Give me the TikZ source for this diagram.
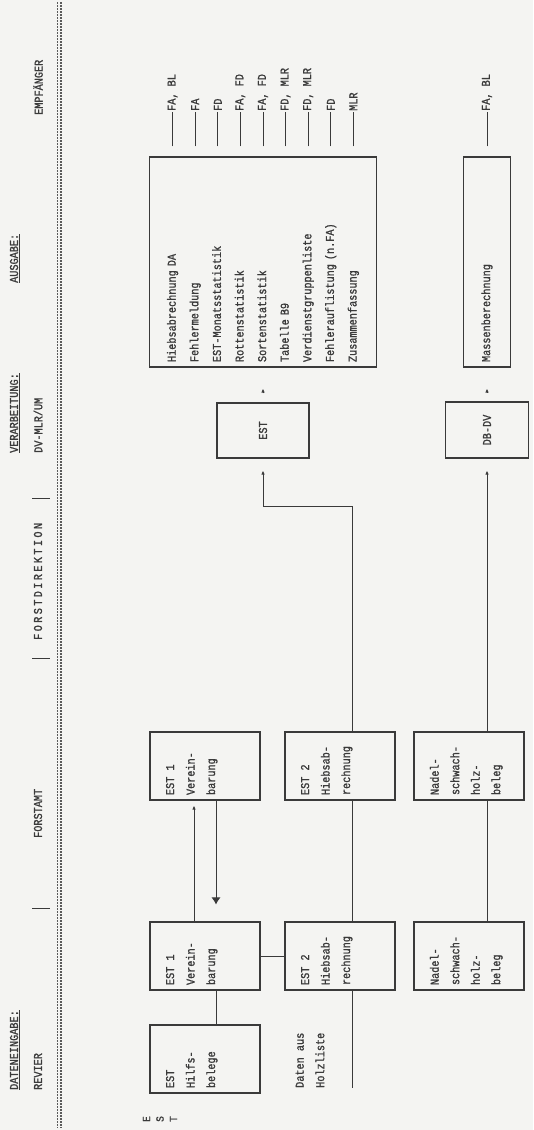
\documentclass[tikz,border=0pt]{standalone}
\usepackage{fontspec}
\setmainfont{Liberation Mono}[FakeStretch=0.85, FakeBold=1.2]
\usetikzlibrary{arrows.meta}
\definecolor{ink}{HTML}{3A3A3A}
\definecolor{paper}{HTML}{F4F4F2}
\definecolor{rulegray}{HTML}{5A5A5A}
\newcommand{\slip}[1]{\parbox[c][78pt][t]{58pt}{#1}}
\tikzset{
  box/.style={draw=ink, line width=1.1pt, rotate=90, inner xsep=5pt, inner ysep=16pt, text=ink, font=\fontsize{12}{20.5}\selectfont},
  procbox/.style={draw=ink, line width=1.1pt, rotate=90, inner sep=0pt, text=ink, font=\fontsize{12}{14}\selectfont},
  outbox/.style={draw=ink, line width=1.1pt, rotate=90, align=left, text width=200pt, inner xsep=5pt, inner ysep=0pt, minimum height=227pt, text=ink, font=\fontsize{12}{22.6}\selectfont},
  head/.style={rotate=90, anchor=west, inner sep=0pt, text=ink, font=\fontsize{12}{14}\selectfont},
  rcpt/.style={rotate=90, anchor=west, inner sep=1pt, text=ink, font=\fontsize{12}{14}\selectfont},
  tag/.style={rotate=90, align=center, inner sep=0pt, text=ink, font=\fontsize{11}{13.5}\selectfont},
  link/.style={draw=ink, line width=0.8pt},
  tick/.style={draw=ink, line width=0.8pt, shorten <=10pt},
  divider/.style={draw=ink, line width=1pt},
  doubleline/.style={draw=rulegray, line width=1.1pt, dash pattern=on 1.6pt off 1.4pt},
  arrow/.style={-{Latex[length=4pt,width=3.5pt]}, draw=ink, line width=0.8pt},
  bigarrow/.style={-{Latex[length=7pt,width=9pt]}, draw=ink, line width=0.9pt}
}
\begin{document}
\begin{tikzpicture}[x=1pt, y=-1pt]
\fill[paper] (0,0) rectangle (533,1130);
\useasboundingbox (0,0) rectangle (533,1130);
% column heads
\node[head] (hin) at (15,1090) {\underline{DATENEINGABE:}};
\node[head] (hrev) at (38,1090) {REVIER};
\node[head] (hfa) at (38,838) {FORSTAMT};
\node[head] (hfd) at (38,640) {\addfontfeature{LetterSpace=20}FORSTDIREKTION};
\node[head] (hvb) at (15,453) {\underline{VERARBEITUNG:}};
\node[head] (hdv) at (38,453) {DV-MLR/UM};
\node[head] (haus) at (15,283) {\underline{AUSGABE:}};
\node[head] (hemp) at (38,115) {EMPFÄNGER};
\draw[divider] (32,908) -- (50,908); \draw[divider] (32,658) -- (50,658); \draw[divider] (32,498) -- (50,498);
\draw[doubleline] (57.5,2) -- (57.5,1128); \draw[doubleline] (61,2) -- (61,1128);
% Revier / Forstamt forms
\node[box] (hilfs) at (205,1059) {\slip{EST\\Hilfs-\\belege}};
\node[box] (v1) at (205,956) {\slip{EST 1\\Verein-\\barung}};
\node[box] (h1) at (340,956) {\slip{EST 2\\Hiebsab-\\rechnung}};
\node[box] (n1) at (469,956) {\slip{Nadel-\\schwach-\\holz-\\beleg}};
\node[box] (v2) at (205,766) {\slip{EST 1\\Verein-\\barung}};
\node[box] (h2) at (340,766) {\slip{EST 2\\Hiebsab-\\rechnung}};
\node[box] (n2) at (469,766) {\slip{Nadel-\\schwach-\\holz-\\beleg}};
\node[rcpt, align=left, inner sep=0pt, font=\fontsize{12}{20.5}\selectfont] (holz) at (310,1088) {Daten aus\\Holzliste};
\coordinate (holzend) at (352,1088);
\node[tag] (estmark) at (160,1119) {E\\S\\T};
% processing and output
\node[procbox, minimum width=55pt, minimum height=92pt] (est) at (263,430.5) {EST};
\node[procbox, minimum width=56pt, minimum height=83pt] (dbdv) at (487,430) {DB-DV};
\node[outbox] (out) at (263,262) {Hiebsabrechnung DA\\Fehlermeldung\\EST-Monatsstatistik\\Rottenstatistik\\Sortenstatistik\\Tabelle B9\\Verdienstgruppenliste\\Fehlerauflistung (n.FA)\\Zusammenfassung};
\node[outbox, minimum height=47pt] (mass) at (487,262) {Massenberechnung};
% recipients
\node[rcpt] (r1) at (172.6,112) {FA, BL};
\node[rcpt] (r2) at (195.2,112) {FA};
\node[rcpt] (r3) at (217.8,112) {FD};
\node[rcpt] (r4) at (240.4,112) {FA, FD};
\node[rcpt] (r5) at (263,112) {FA, FD};
\node[rcpt] (r6) at (285.6,112) {FD, MLR};
\node[rcpt] (r7) at (308.2,112) {FD, MLR};
\node[rcpt] (r8) at (330.8,112) {FD};
\node[rcpt] (r9) at (353.4,112) {MLR};
\node[rcpt] (rm) at (487,112) {FA, BL};
\draw[tick] (r1.west |- out.east) -- (r1.west); \draw[tick] (r2.west |- out.east) -- (r2.west);
\draw[tick] (r3.west |- out.east) -- (r3.west); \draw[tick] (r4.west |- out.east) -- (r4.west);
\draw[tick] (r5.west |- out.east) -- (r5.west); \draw[tick] (r6.west |- out.east) -- (r6.west);
\draw[tick] (r7.west |- out.east) -- (r7.west); \draw[tick] (r8.west |- out.east) -- (r8.west);
\draw[tick] (r9.west |- out.east) -- (r9.west); \draw[tick] (rm.west |- mass.east) -- (rm.west);
% connections
\draw[link] ([xshift=11pt]v1.west) -- ([xshift=11pt]hilfs.east);
\draw[link] (v1.south) -- (h1.north);
\draw[arrow, shorten >=5pt] ([xshift=-11pt]v1.east) -- ([xshift=-11pt]v2.west);
\draw[bigarrow, shorten >=17pt] ([xshift=11pt]v2.west) -- ([xshift=11pt]v1.east);
\draw[link] ([xshift=12pt]h1.east) -- ([xshift=12pt]h2.west);
\draw[link] ([xshift=12pt]h1.west) -- (holzend);
\draw[link] ([xshift=18pt]n1.east) -- ([xshift=18pt]n2.west);
\draw[arrow, shorten >=12pt] ([xshift=12pt]h2.east) -- ++(0,-225) -| (est.west);
\draw[arrow, shorten >=12pt] ([xshift=18pt]n2.east) -- (dbdv.west);
\draw[arrow, shorten <=9pt, shorten >=21pt] (est.east) -- (out.west);
\draw[arrow, shorten <=9pt, shorten >=21pt] (dbdv.east) -- (mass.west);
\end{tikzpicture}
\end{document}
